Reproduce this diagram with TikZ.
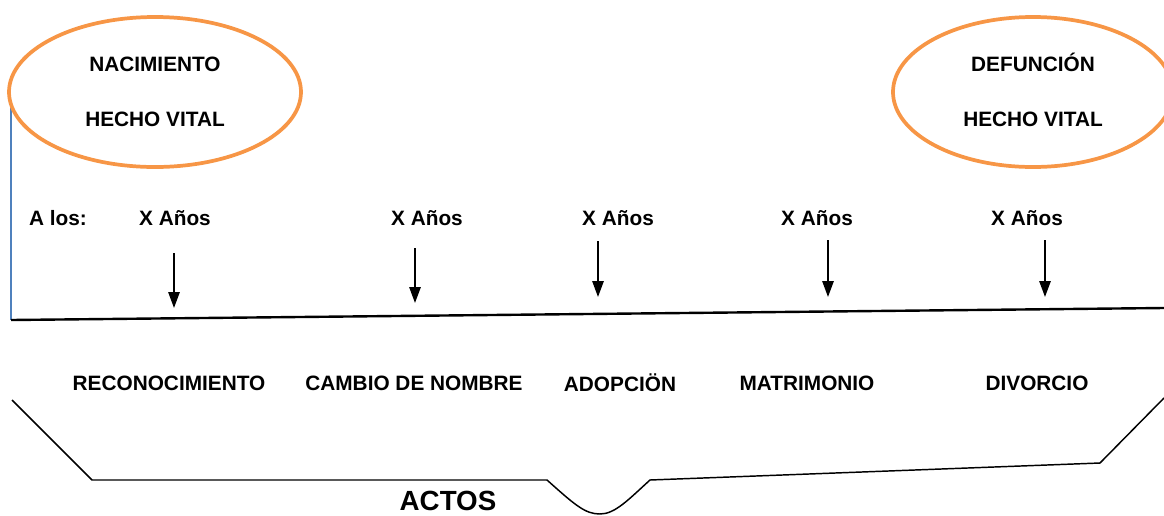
\documentclass[tikz,border=0pt]{standalone}
\usepackage{fontspec}
\setmainfont{Liberation Sans}
\usepackage{xcolor}
\usetikzlibrary{arrows.meta,shapes.geometric}

\definecolor{hechoorange}{HTML}{F79646}
\definecolor{ejeblue}{HTML}{4F81BD}

\tikzset{
  lbl/.style={font=\bfseries\fontsize{15.6}{18}\selectfont, inner sep=0pt},
  hecho/.style={ellipse, draw=hechoorange, line width=2.8pt, inner sep=0pt,
    align=center, font=\bfseries\fontsize{15.6}{41.25}\selectfont},
  anios/.style={-{Triangle[length=12pt,width=8.5pt]}, line width=1.4pt},
}

\begin{document}
\begin{tikzpicture}[x=0.75pt,y=-0.75pt]

\useasboundingbox (0,0) rectangle (1164,515);

\coordinate (ejetop) at (11,100);
\coordinate (t0) at (11,320);
\coordinate (t1) at (1164,308);

\draw[color=ejeblue,line width=1.2pt] (ejetop) -- (t0);

\node[hecho, minimum width=219pt, minimum height=112.5pt] (nac) at (155,92) {NACIMIENTO\\HECHO VITAL};
\node[hecho, minimum width=210pt, minimum height=112.5pt] (def) at (1033,92) {DEFUNCI\smash{Ó}N\\HECHO VITAL};

\draw[line width=1.8pt] (t0) -- (t1);

\node[lbl] (alos) at (58,218) {A los:};
\node[lbl] (x1) at (175,218) {X Años};
\node[lbl] (x2) at (427,218) {X Años};
\node[lbl] (x3) at (618,218) {X Años};
\node[lbl] (x4) at (817,218) {X Años};
\node[lbl] (x5) at (1027,218) {X Años};

\coordinate (a1) at (174,253);  \coordinate (b1) at (174,308);
\coordinate (a2) at (415,248);  \coordinate (b2) at (415,303);
\coordinate (a3) at (598,241);  \coordinate (b3) at (598,297);
\coordinate (a4) at (828,240);  \coordinate (b4) at (828,297);
\coordinate (a5) at (1045,240); \coordinate (b5) at (1045,297);

\draw[anios] (a1) -- (b1);
\draw[anios] (a2) -- (b2);
\draw[anios] (a3) -- (b3);
\draw[anios] (a4) -- (b4);
\draw[anios] (a5) -- (b5);

\node[lbl] (rec) at (169,383) {RECONOCIMIENTO};
\node[lbl] (cam) at (414,383) {CAMBIO DE NOMBRE};
\node[lbl] (ado) at (620,383) {ADOPCIÖN};
\node[lbl] (mat) at (807,383) {MATRIMONIO};
\node[lbl] (div) at (1037,383) {DIVORCIO};

\draw[line width=1.1pt] (12,400) -- (92,480) -- (547,480)
  .. controls (575,505) and (585,514) .. (600,514)
  .. controls (615,514) and (628,500) .. (650,480)
  -- (1100,463) -- (1164,398);

\node[font=\bfseries\fontsize{20.8}{24}\selectfont, inner sep=0pt] (actos) at (448,501) {ACTOS};

\end{tikzpicture}
\end{document}
